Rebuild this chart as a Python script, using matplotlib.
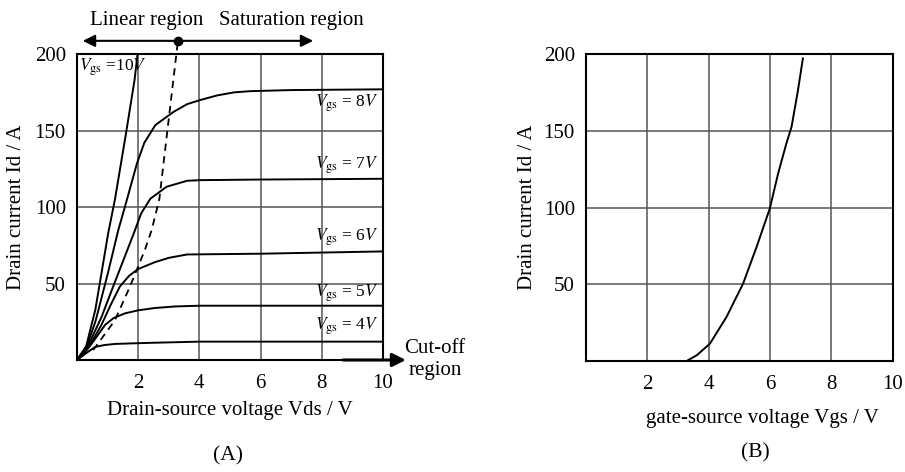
#!/usr/bin/env python3
"""MOSFET output (Id-Vds) and transfer (Id-Vgs) characteristics, panels (A) and (B)."""

import matplotlib.pyplot as plt

plt.rcParams["font.family"] = ["Liberation Serif", "DejaVu Serif"]
plt.rcParams["mathtext.fontset"] = "stix"

# --- panel (A): output curves, Vds (V) -> Id (A) ---
VDS_10 = [0, 0.3, 0.6, 1.02, 1.24, 1.6, 1.88, 1.98]
ID_10 = [0, 9, 33, 83, 105, 148, 183, 200]

VDS_8 = [0, 0.3, 0.6, 1.0, 1.35, 1.62, 1.96, 2.2, 2.56, 3.16, 3.6, 4.03, 4.58, 5.13, 5.67, 7.0, 10]
ID_8 = [0, 8, 25, 56, 85, 104, 128.6, 142, 153.6, 162.3, 167.3, 170, 173, 175, 175.8, 176.5, 177]

VDS_7 = [0, 0.4, 0.8, 1.2, 1.55, 1.86, 2.1, 2.4, 2.93, 3.6, 4.03, 6.0, 10]
ID_7 = [0, 11, 28, 49, 67, 83, 96, 105.5, 113.3, 117.2, 117.6, 118, 118.5]

VDS_6 = [0, 0.4, 0.8, 1.1, 1.4, 1.7, 2.0, 2.55, 3.0, 3.6, 6.0, 10]
ID_6 = [0, 9, 23, 36, 48, 55, 59.5, 64, 66.8, 69, 69.5, 71]

VDS_5 = [0, 0.3, 0.6, 0.92, 1.2, 1.57, 2.0, 2.55, 3.2, 4.0, 10]
ID_5 = [0, 6, 14, 23, 27.5, 30.5, 32.5, 34, 35, 35.5, 35.5]

VDS_4 = [0, 0.3, 0.59, 0.9, 1.24, 2.0, 2.55, 4.0, 10]
ID_4 = [0, 4.5, 8.5, 9.8, 10.5, 11, 11.3, 12, 12]

# boundary between linear and saturation region
VDS_EDGE = [0.53, 1.24, 1.73, 2.22, 2.44, 2.69, 3.26, 3.30]
ID_EDGE = [6.5, 26, 48, 72, 85, 105, 202, 208.7]

CURVES_A = [
    (VDS_10, ID_10),
    (VDS_8, ID_8),
    (VDS_7, ID_7),
    (VDS_6, ID_6),
    (VDS_5, ID_5),
    (VDS_4, ID_4),
]
CURVE_LABELS = ["10", "8", "7", "6", "5", "4"]
LABEL_Y = [191.5, 168, 127.5, 80.6, 43.6, 21.8]

# --- panel (B): transfer curve, Vgs (V) -> Id (A) ---
VGS = [3.28, 3.61, 4.04, 4.58, 5.12, 5.56, 5.99, 6.26, 6.53, 6.70, 6.91, 7.07]
ID_B = [0, 3.7, 11.3, 28.7, 50.4, 74.3, 99.3, 122, 141.7, 152.6, 176.5, 197.2]

X_TICKS = [2, 4, 6, 8, 10]
Y_TICKS = [50, 100, 150, 200]

GRID = "#555555"
FS = 15


def style_axes(ax):
    ax.set_xlim(0, 10)
    ax.set_ylim(0, 200)
    ax.set_xticks(X_TICKS)
    ax.set_yticks(Y_TICKS)
    ax.tick_params(length=0, labelsize=FS)
    ax.tick_params(axis="x", pad=10)
    ax.tick_params(axis="y", pad=8)
    ax.grid(color=GRID, linewidth=1.1)
    ax.set_axisbelow(True)
    for sp in ax.spines.values():
        sp.set_color("black")
        sp.set_linewidth(1.5)


def vgs_label(v):
    return r"$V_{\rm gs}$ = " + v + r"$V$"


fig = plt.figure(figsize=(9.05, 4.72), dpi=100)
ax_a = fig.add_axes([0.0851, 0.2373, 0.338, 0.648])
ax_b = fig.add_axes([0.6475, 0.2352, 0.339, 0.650])

# panel A
style_axes(ax_a)
for (xs, ys) in CURVES_A:
    ax_a.plot(xs, ys, color="black", linewidth=1.4)
ax_a.plot(VDS_EDGE, ID_EDGE, color="black", linewidth=1.3, linestyle=(0, (4, 3)), clip_on=False)

for v, y in zip(CURVE_LABELS, LABEL_Y):
    if v == "10":
        ax_a.text(0.05, y, r"$V_{\rm gs}$ =10$V$", fontsize=12.5, ha="left", va="center")
    else:
        ax_a.text(9.85, y, vgs_label(v), fontsize=12.5, ha="right", va="center")

# region arrows above the plot
for x_end in (0.19, 7.72):
    ax_a.annotate(
        "", xy=(x_end, 208.7), xytext=(3.26, 208.7),
        arrowprops=dict(arrowstyle="-|>", color="black", lw=1.5, mutation_scale=18, shrinkA=0, shrinkB=0),
        annotation_clip=False,
    )
ax_a.plot([3.30], [208.7], "o", color="black", markersize=6, clip_on=False)
ax_a.text(2.28, 222, "Linear region", fontsize=FS, ha="center", va="center", clip_on=False)
ax_a.text(7.02, 222, "Saturation region", fontsize=FS, ha="center", va="center", clip_on=False)

# cut-off region arrow
ax_a.annotate(
    "", xy=(10.75, 0), xytext=(8.7, 0),
    arrowprops=dict(arrowstyle="-|>", color="black", lw=2.2, mutation_scale=20, shrinkA=0, shrinkB=0),
    annotation_clip=False,
)
ax_a.text(11.7, 0.3, "Cut-off\nregion", fontsize=FS, ha="center", va="center", linespacing=1.25)

ax_a.set_xlabel("Drain-source voltage Vds / V", fontsize=FS, labelpad=6)
ax_a.set_ylabel("Drain current Id / A", fontsize=FS, labelpad=6)

# panel B
style_axes(ax_b)
ax_b.plot(VGS, ID_B, color="black", linewidth=1.4)
ax_b.set_xlabel("gate-source voltage Vgs / V", fontsize=FS, va="center")
ax_b.xaxis.set_label_coords(0.575, -0.186)
ax_b.set_ylabel("Drain current Id / A", fontsize=FS, labelpad=5)

fig.text(228 / 905, 1 - 456 / 472, "(A)", fontsize=15.5, ha="center", va="center")
fig.text(755 / 905, 1 - 453 / 472, "(B)", fontsize=15.5, ha="center", va="center")

fig.savefig("out.png", dpi=100)
